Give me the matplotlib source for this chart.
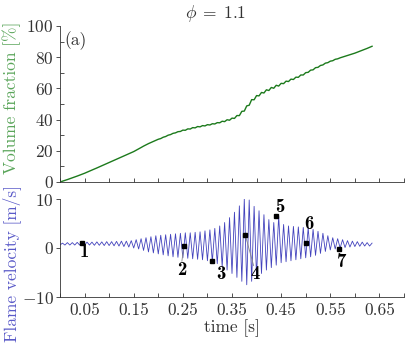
import numpy as np
import matplotlib
matplotlib.use("Agg")
import matplotlib.pyplot as plt
from matplotlib.ticker import FixedLocator, MultipleLocator

plt.rcParams.update({
    "font.family": "serif",
    "font.serif": ["cmr10"],
    "mathtext.fontset": "cm",
    "axes.formatter.use_mathtext": True,
    "font.size": 12.5,
})

# ---------------- data ----------------
# volume fraction [%] sampled every 5 ms from t = 0 to 0.635 s
vf_values = [
    0.0, 0.5, 1.0, 1.55, 2.1, 2.65, 3.2, 3.8, 4.4, 5.0,
    5.6, 6.3, 7.0, 7.65, 8.3, 9.0, 9.7, 10.4, 11.1, 11.8,
    12.5, 13.2, 13.9, 14.6, 15.3, 16.0, 16.7, 17.4, 18.1, 18.8,
    19.5, 20.35, 21.2, 22.1, 23.0, 23.8, 24.6, 25.3, 26.0, 26.65,
    27.4, 27.85, 28.7, 29.15, 30.0, 30.4, 31.2, 31.5, 32.25, 32.4,
    33.25, 33.15, 34.05, 33.95, 34.85, 34.7, 35.55, 35.35, 36.15, 35.95,
    36.75, 36.55, 37.35, 37.2, 38.05, 37.95, 38.95, 38.7, 39.9, 39.6,
    40.95, 40.75, 42.6, 42.55, 45.3, 45.45, 48.8, 49.2, 52.8, 52.7,
    55.4, 55.2, 57.4, 57.05, 59.1, 58.65, 60.6, 60.1, 62.0, 61.5,
    63.25, 63.05, 64.65, 64.4, 65.95, 65.7, 67.2, 67.1, 68.6, 68.6,
    70.1, 70.3, 71.7, 71.9, 73.3, 73.5, 74.7, 75.05, 76.2, 76.5,
    77.45, 77.75, 78.65, 78.95, 79.6, 80.1, 80.6, 81.1, 81.6, 82.1,
    82.6, 83.2, 83.8, 84.4, 85.0, 85.65, 86.3, 87.0,
]
vf_time = np.arange(len(vf_values)) * 0.005

# flame velocity [m/s]: troughs at t = 0, 0.01, ... ; peaks at t = 0.005, 0.015, ...
vel_troughs = [
    0.6, 0.6, 0.6, 0.6, 0.6, 0.6, 0.6, 0.55, 0.55, 0.5,
    0.5, 0.45, 0.4, 0.3, 0.2, 0.0, -0.2, -0.5, -0.8, -1.0,
    -1.2, -1.4, -1.6, -1.8, -1.9, -2.0, -2.1, -2.2, -2.3, -2.4,
    -2.6, -2.8, -3.2, -3.8, -4.5, -5.2, -6.0, -6.8, -7.5, -6.8,
    -6.0, -5.2, -4.5, -4.0, -3.5, -3.0, -2.8, -2.6, -2.4, -2.2,
    -2.0, -1.8, -1.5, -1.1, -0.7, -0.4, -0.2, 0.0, 0.1, 0.2,
    0.3, 0.35, 0.4, 0.4,
]
vel_peaks = [
    1.0, 1.1, 1.1, 1.15, 1.2, 1.2, 1.2, 1.25, 1.25, 1.3,
    1.3, 1.35, 1.4, 1.4, 1.5, 1.7, 1.9, 2.1, 2.3, 2.5,
    2.6, 2.7, 2.8, 2.9, 3.0, 3.1, 3.1, 3.2, 3.3, 3.5,
    3.7, 4.0, 4.5, 5.2, 6.2, 7.3, 8.6, 10.0, 9.8, 8.5,
    7.6, 6.8, 5.8, 5.2, 6.5, 4.8, 4.5, 4.4, 4.3, 4.2,
    4.1, 3.8, 3.4, 3.0, 2.5, 2.1, 1.9, 1.7, 1.5, 1.4,
    1.3, 1.2, 1.1, 1.0,
]
vel_values = [v for pair in zip(vel_troughs, vel_peaks) for v in pair]
vel_time = np.arange(len(vel_values)) * 0.005

# snapshot markers
snap_labels = ["1", "2", "3", "4", "5", "6", "7"]
snap_t = [0.045, 0.252, 0.310, 0.377, 0.440, 0.500, 0.567]
snap_v = [1.1, 0.4, -2.6, 2.65, 6.5, 1.1, -0.3]
label_t = [0.050, 0.247, 0.327, 0.398, 0.448, 0.507, 0.574]
label_v = [-0.9, -4.5, -5.3, -5.4, 8.4, 4.9, -2.9]

xtick_labeled = [0.05, 0.15, 0.25, 0.35, 0.45, 0.55, 0.65]

green_line = "#1c7a1c"
green_label = "#5aa55a"
blue_line = "#4343bd"
blue_label = "#5a5ac8"

# ---------------- figure ----------------
fig = plt.figure(figsize=(4.15, 3.46), dpi=100)
W, H = 415, 346
ax1 = fig.add_axes([60 / W, (H - 182) / H, 344 / W, 156 / H])
ax2 = fig.add_axes([60 / W, (H - 297) / H, 344 / W, 98 / H])

for ax in (ax1, ax2):
    ax.spines["top"].set_visible(False)
    ax.spines["right"].set_visible(False)
    for s in ("left", "bottom"):
        ax.spines[s].set_linewidth(0.6)
        ax.spines[s].set_color("#333333")
    ax.set_xlim(0, 0.7)
    ax.xaxis.set_major_locator(FixedLocator(xtick_labeled))
    ax.xaxis.set_minor_locator(FixedLocator([0.0, 0.1, 0.2, 0.3, 0.4, 0.5, 0.6, 0.7]))
    ax.tick_params(axis="x", which="both", direction="in", length=3, width=0.6,
                   color="#333333", pad=4, labelcolor="#333333")
    ax.tick_params(axis="y", which="major", direction="out", length=3, width=0.6,
                   color="#333333", pad=1.5, labelcolor="#333333")
    ax.tick_params(axis="y", which="minor", direction="in", length=3, width=0.6,
                   color="#333333")

# top panel
ax1.plot(vf_time, vf_values, color=green_line, lw=1.0)
ax1.set_ylim(0, 100)
ax1.yaxis.set_major_locator(MultipleLocator(20))
ax1.yaxis.set_minor_locator(MultipleLocator(10))
ax1.tick_params(axis="x", labelbottom=False)
ax1.text(0.012, 0.905, "(a)", transform=ax1.transAxes, ha="left", va="center",
         color="#333333")

# bottom panel
ax2.plot(vel_time, vel_values, color=blue_line, lw=0.6)
ax2.set_ylim(-10, 10)
ax2.set_yticks([-10, 0, 10])
ax2.set_xticklabels([f"{v:.2f}" for v in xtick_labeled])
ax2.set_xlabel("time [s]", color="#333333", labelpad=1)

# connector lines for labels 2 and 4
ax2.plot([snap_t[1], label_t[1] + 0.001], [snap_v[1], label_v[1] + 1.8],
         color="#888888", lw=0.6)
ax2.plot([snap_t[3], label_t[3] - 0.004], [snap_v[3], label_v[3] + 1.8],
         color="#888888", lw=0.6)

ax2.plot(snap_t, snap_v, "s", color="black", markersize=2.5, zorder=5)
for lab, lt, lv in zip(snap_labels, label_t, label_v):
    ax2.text(lt, lv, lab, ha="center", va="center", family="cmb10",
             fontsize=13.5, color="black", zorder=6)

# labels and title
fig.text(12 / W, 1 - 98 / H, "Volume fraction [%]", rotation=90,
         ha="center", va="center", color=green_label)
fig.text(12 / W, 1 - 263 / H, "Flame velocity [m/s]", rotation=90,
         ha="center", va="center", color=blue_label)
fig.text(216 / W, 1 - 13 / H, r"$\phi\;=\;1.1$", ha="center", va="center",
         color="#333333")

fig.savefig("out.png", dpi=100)
